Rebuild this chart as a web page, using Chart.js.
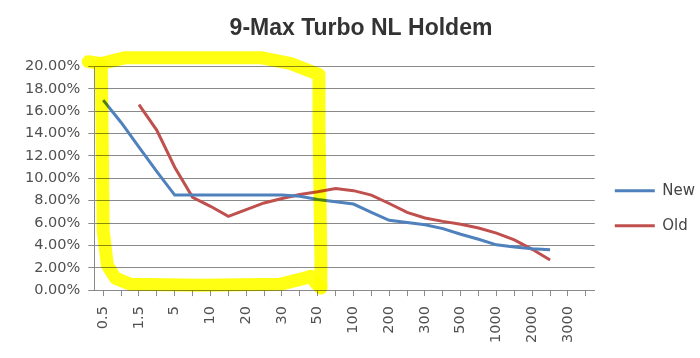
<!DOCTYPE html>
<html>
<head>
<meta charset="utf-8">
<script src="https://cdn.jsdelivr.net/npm/chart.js@4.4.1/dist/chart.umd.min.js"></script>
<style>
  html, body { margin: 0; padding: 0; background: #fff; }
  #wrap { width: 700px; height: 358px; }
</style>
</head>
<body>
<div id="wrap"><canvas id="holdemChart"></canvas></div>
<script>
// Visible stake labels - each one is followed by an unlabelled category on the axis
const tickLabels = ['0.5', '1.5', '5', '10', '20', '30', '50', '100', '200', '300', '500', '1000', '2000', '3000'];
const categories = tickLabels.flatMap(t => [t, '']);

// Values in percent, one per category (28)
const newValues = [17.0, 15.0, 12.8, 10.6, 8.5, 8.5, 8.5, 8.5, 8.5, 8.5, 8.5, 8.4, 8.1, 7.9,
                   7.7, 6.95, 6.25, 6.05, 5.85, 5.5, 5.0, 4.55, 4.05, 3.85, 3.7, 3.6, null, null];
const oldValues = [null, null, 16.6, 14.3, 11.0, 8.3, 7.5, 6.6, 7.2, 7.8, 8.2, 8.55, 8.8, 9.1,
                   8.9, 8.5, 7.75, 6.95, 6.45, 6.15, 5.9, 5.55, 5.1, 4.5, 3.65, 2.7, null, null];

const seriesNames = ['New', 'Old'];

// Hand-drawn highlighter box, given as [category index, value] so it follows the scales
const highlightTop = [[-0.84, 20.44], [-0.11, 20.27], [1.24, 20.8], [8.82, 20.8], [10.5, 20.27],
                      [12.07, 19.29], [12.07, 15.1], [12.13, 8.0], [12.18, 2.67], [12.18, 0.27]];
const highlightBottom = [[-0.11, 20.27], [-0.05, 12.44], [0.0, 5.33], [0.23, 2.22], [0.68, 1.07],
                         [1.52, 0.53], [5.45, 0.44], [9.94, 0.53], [11.06, 0.98], [11.62, 1.24],
                         [11.85, 0.71], [12.18, 0.18]];

const whiteBg = {
    id: 'whiteBg',
    beforeDraw(chart) {
        const ctx = chart.ctx;
        ctx.save();
        ctx.fillStyle = '#ffffff';
        ctx.fillRect(0, 0, chart.width, chart.height);
        ctx.restore();
    }
};

const highlighter = {
    id: 'highlighter',
    afterDatasetsDraw(chart) {
        const ctx = chart.ctx;
        const xs = chart.scales.x, ys = chart.scales.y;
        const stroke = (pts) => {
            ctx.beginPath();
            pts.forEach(([i, v], n) => {
                const px = xs.getPixelForValue(i), py = ys.getPixelForValue(v);
                if (n === 0) ctx.moveTo(px, py); else ctx.lineTo(px, py);
            });
            ctx.stroke();
        };
        ctx.save();
        ctx.globalCompositeOperation = 'multiply';
        ctx.strokeStyle = '#ffff14';
        ctx.lineWidth = 13;
        ctx.lineJoin = 'round';
        ctx.lineCap = 'round';
        stroke(highlightTop);
        stroke(highlightBottom);
        ctx.restore();
    }
};

const ctx = document.getElementById('holdemChart').getContext('2d');
new Chart(ctx, {
    type: 'line',
    data: {
        labels: categories,
        datasets: [{
            label: seriesNames[0],
            data: newValues,
            borderColor: '#4f81bd',
            backgroundColor: '#4f81bd',
            borderWidth: 3,
            pointRadius: 0,
            tension: 0
        }, {
            label: seriesNames[1],
            data: oldValues,
            borderColor: '#c0504d',
            backgroundColor: '#c0504d',
            borderWidth: 3,
            pointRadius: 0,
            tension: 0
        }]
    },
    options: {
        responsive: true,
        maintainAspectRatio: false,
        animation: false,
        layout: { padding: { left: 17, right: -5, bottom: 5 } },
        plugins: {
            title: {
                display: true,
                text: '9-Max Turbo NL Holdem',
                color: '#333333',
                font: { family: "'Liberation Sans', Arial, sans-serif", size: 23, weight: 'bold' },
                padding: { top: 15, bottom: 24 }
            },
            legend: {
                position: 'right',
                title: { display: true, text: '', padding: { top: 49, bottom: 0 } },
                labels: {
                    color: '#444',
                    font: { family: "'DejaVu Sans', sans-serif", size: 15 },
                    usePointStyle: true,
                    pointStyle: 'line',
                    pointStyleWidth: 40,
                    boxHeight: 15,
                    padding: 20
                }
            },
            tooltip: { enabled: false }
        },
        scales: {
            x: {
                offset: true,
                grid: {
                    drawOnChartArea: false,
                    color: '#8a8a8a',
                    tickLength: 6
                },
                border: { color: '#8a8a8a' },
                ticks: {
                    autoSkip: false,
                    maxRotation: 90,
                    minRotation: 90,
                    padding: 10,
                    color: '#505050',
                    font: { family: "'DejaVu Sans', sans-serif", size: 14.5 }
                }
            },
            y: {
                min: 0,
                max: 20,
                grid: { color: '#8a8a8a', tickLength: 6 },
                border: { color: '#8a8a8a' },
                ticks: {
                    stepSize: 2,
                    padding: 8,
                    color: '#505050',
                    font: { family: "'DejaVu Sans', sans-serif", size: 14.5 },
                    callback: v => v.toFixed(2) + '%'
                }
            }
        }
    },
    plugins: [whiteBg, highlighter]
});
</script>
</body>
</html>
